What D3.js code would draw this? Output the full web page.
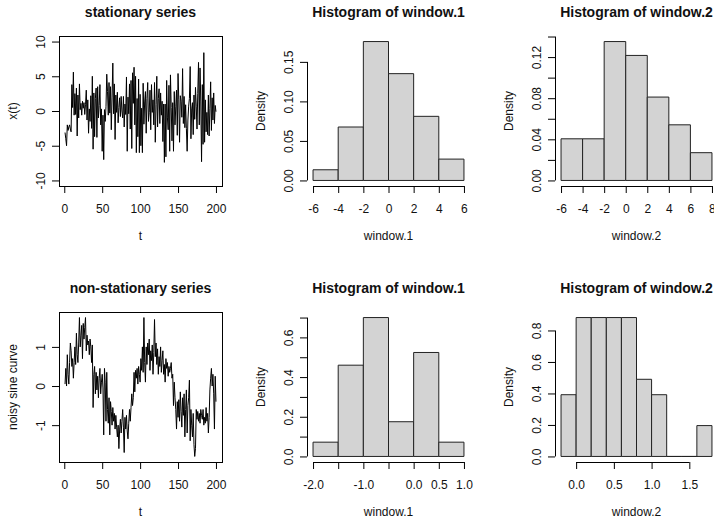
<!DOCTYPE html>
<html>
<head>
<meta charset="utf-8">
<script src="https://cdn.jsdelivr.net/npm/d3@7"></script>
<style>
body { margin: 0; background: #fff; }
svg text { font-family: "Liberation Sans", Arial, sans-serif; fill: #111; }
</style>
</head>
<body>
<div id="chart"></div>
<script>
// series, t = 1..200
var stationary = [
  -3.1, -4.0, -5.0, -2.0, -2.8, -2.3, -2.0, -2.6, -3.0, 3.8,
  0.5, 5.6, -0.6, 2.5, -0.5, 3.3, -3.6, 2.3, -1.0, 3.9,
  0.2, 1.1, -0.6, 1.4, 0.4, 1.2, -0.5, 0.9, 3.0, -1.3,
  1.6, -3.2, 0.3, -1.5, 2.2, -2.5, 5.0, -5.5, 2.6, -3.7,
  1.8, 3.3, -3.8, 3.5, -1.0, 0.8, 3.8, -2.0, 0.3, -5.8,
  -0.6, -7.0, 0.2, -1.5, 0.6, 5.3, 2.8, -0.6, 4.1, -0.3,
  3.5, -2.7, 2.0, 6.9, -0.4, 3.9, -4.1, 2.3, -0.2, 2.7,
  -1.7, 0.5, 1.9, -0.8, 2.1, 0.0, -1.0, 2.1, -2.3, 1.0,
  -0.5, 4.9, -5.8, 2.0, -0.4, 3.9, -2.6, 4.4, -5.4, 5.5,
  1.1, 6.3, -2.0, 5.0, -6.0, 1.8, -3.7, 4.6, -6.0, 2.4,
  -5.0, 0.4, -6.0, 4.0, -1.9, 1.3, 2.8, -3.2, 1.8, 4.1,
  -1.5, -0.2, 3.0, -2.7, 3.8, -0.2, 1.6, -2.0, 4.1, -4.5,
  0.9, 5.0, -2.3, 1.8, 3.2, -1.8, 2.6, -0.6, 1.4, -4.4,
  1.0, -7.4, 1.0, -6.6, 4.4, -1.0, -2.7, 3.7, -5.8, 5.2,
  0.5, -4.3, 1.2, -5.8, 2.8, -2.0, 0.6, 3.0, -3.5, 5.4,
  1.6, -4.5, 2.2, 1.4, -0.9, 6.1, -1.8, 2.1, -2.4, 0.9,
  -2.5, -5.8, -1.3, 0.7, 1.8, 6.4, -4.0, 0.3, 1.2, -3.4,
  2.3, -1.2, 3.4, 0.7, -2.6, 2.5, 7.0, -2.0, 6.2, 1.3,
  -7.3, 3.8, -4.8, 8.4, -4.5, 1.6, -3.0, -0.2, -3.4, 2.3,
  -3.6, 0.4, 4.2, -2.8, 1.9, -1.3, 2.6, -1.8, 0.8, -0.1
]

var nonStationary = [
  0.05, 0.45, 0.0, 0.8, 0.3, 0.05, 0.6, 1.1, 0.9, 0.5,
  0.7, 0.2, 0.6, 1.0, 0.55, 1.35, 0.8, 0.6, 1.1, 1.75,
  1.0, 1.3, 1.55, 0.7, 1.6, 1.2, 1.5, 1.75, 0.9, 1.3,
  1.05, 1.15, 0.8, 1.2, 1.0, 0.6, 1.05, -0.55, 0.3, 0.5,
  -0.2, 0.35, -0.1, 0.25, -0.3, 0.2, 0.45, -0.2, 0.1, 0.3,
  -0.05, -1.25, 0.45, 0.1, -0.9, 0.35, -0.6, -0.95, -0.3, -1.25,
  -0.4, -0.65, -1.0, -0.55, -0.9, -0.7, -1.1, -0.75, -1.05, -1.3,
  -1.0, -1.6, -1.1, -0.85, -1.2, -0.9, -0.6, -1.05, -1.7, -0.8,
  -1.1, -0.75, -1.15, -1.35, -0.95, -0.6, -0.9, -0.55, -0.2, -0.5,
  -0.3, 0.35, -0.15, 0.4, 0.2, 0.45, 0.05, 0.5, 0.3, 0.1,
  0.7, 0.4, 1.0, 0.35, 1.75, 0.6, 0.1, 1.0, 0.55, 1.1,
  0.8, 1.2, 0.4, 0.9, 0.65, 1.05, 0.3, 0.85, 1.7, 0.75,
  1.1, 0.55, 0.95, 0.3, 0.75, 0.5, 1.0, 0.35, 0.65, 0.9,
  0.3, 0.55, 0.1, 0.7, 0.45, 0.6, 0.25, 0.5, 0.35, 0.45,
  0.6, 0.2, 0.3, -0.5, 0.1, -0.3, -0.6, -1.1, -0.4, -0.8,
  -0.35, -0.9, -0.15, -0.65, -1.05, -0.3, -0.75, -0.2, -1.3, -0.6,
  -0.1, -1.2, -0.5, -0.3, 0.15, -1.4, -0.6, -1.0, -1.3, -0.7,
  -1.5, -1.8, -1.6, -0.6, -0.85, -0.65, -0.9, -0.7, -0.95, -0.6,
  -0.75, -0.85, -0.6, -1.0, -0.8, -0.95, -0.55, -0.9, -0.7, -1.2,
  -0.8, -0.1, 0.2, 0.45, 0.0, 0.3, -0.2, -1.1, 0.25, -0.4
]

// histograms: bin edges + density
var hist1Breaks = [-6, -4, -2, 0, 2, 4, 6]
var hist1Density = [0.0135, 0.0676, 0.1757, 0.1351, 0.0811, 0.0270]
var hist2Breaks = [-6, -4, -2, 0, 2, 4, 6, 8]
var hist2Density = [0.0405, 0.0405, 0.1351, 0.1216, 0.0811, 0.0541, 0.0270]
var hist3Breaks = [-2, -1.5, -1, -0.5, 0, 0.5, 1]
var hist3Density = [0.072, 0.46, 0.70, 0.175, 0.524, 0.072]
var hist4Breaks = [-0.2, 0, 0.2, 0.4, 0.6, 0.8, 1.0, 1.2, 1.4, 1.6, 1.8]
var hist4Density = [0.392, 0.882, 0.882, 0.882, 0.882, 0.490, 0.392, 0, 0, 0.196]

// ticks and their labels ("" = tick without label)
var tTicks = [0, 50, 100, 150, 200]
var tLabels = ["0", "50", "100", "150", "200"]
var statTicks = [-10, -5, 0, 5, 10]
var statLabels = ["-10", "-5", "0", "5", "10"]
var sineTicks = [-1, 0, 1]
var sineLabels = ["-1", "0", "1"]
var h1xTicks = [-6, -4, -2, 0, 2, 4, 6]
var h1xLabels = ["-6", "-4", "-2", "0", "2", "4", "6"]
var h1yTicks = [0, 0.05, 0.10, 0.15]
var h1yLabels = ["0.00", "0.05", "0.10", "0.15"]
var h2xTicks = [-6, -4, -2, 0, 2, 4, 6, 8]
var h2xLabels = ["-6", "-4", "-2", "0", "2", "4", "6", "8"]
var h2yTicks = [0, 0.02, 0.04, 0.06, 0.08, 0.10, 0.12, 0.14]
var h2yLabels = ["0.00", "", "0.04", "", "0.08", "", "0.12", ""]
var h3xTicks = [-2, -1.5, -1, -0.5, 0, 0.5, 1]
var h3xLabels = ["-2.0", "", "-1.0", "", "0.0", "0.5", "1.0"]
var h3yTicks = [0, 0.1, 0.2, 0.3, 0.4, 0.5, 0.6, 0.7]
var h3yLabels = ["0.0", "", "0.2", "", "0.4", "", "0.6", ""]
var h4xTicks = [0, 0.5, 1.0, 1.5]
var h4xLabels = ["0.0", "0.5", "1.0", "1.5"]
var h4yTicks = [0, 0.2, 0.4, 0.6, 0.8]
var h4yLabels = ["0.0", "0.2", "0.4", "0.6", "0.8"]

var width = 714, height = 521
var W = 163, H = 150
var colLeft = [59, 307, 555]
var rowTop = [36, 312]

var svg = d3.select("#chart").append("svg")
    .attr("width", width)
    .attr("height", height)

// R pads the data range by 4% on each side
var ext = (r) => {
    var pad = (r[1] - r[0]) * 0.04
    return [r[0] - pad, r[1] + pad]
}

var drawPanel = (p) => {
    var g = svg.append('g').attr('transform', `translate(${p.left}, ${p.top})`)
    var x = d3.scaleLinear().domain(ext(p.xr)).range([0, W])
    var y = d3.scaleLinear().domain(ext(p.yr)).range([H, 0])

    if (p.series) {
        var line = d3.line()
            .x((d, i) => x(i + 1))
            .y(d => y(d))
        g.append('path')
            .attr('d', line(p.series))
            .attr('fill', 'none')
            .attr('stroke', '#000')
            .attr('stroke-width', 1)
        g.append('rect')
            .attr('x', 0.5).attr('y', 0.5)
            .attr('width', W).attr('height', H)
            .attr('fill', 'none')
            .attr('stroke', '#000')
    } else {
        var bins = p.density.map((d, i) => ({x0: p.breaks[i], x1: p.breaks[i + 1], d: d}))
        g.selectAll('.bar')
            .data(bins).enter()
            .append('path')
            .attr('class', 'bar')
            .attr('d', b => `M${x(b.x0)},${y(0)}H${x(b.x1)}V${y(b.d)}H${x(b.x0)}Z`)
            .attr('fill', '#d3d3d3')
            .attr('stroke', '#222')
            .attr('stroke-width', 1)
    }

    /* axes */
    var xAxis = d3.axisBottom(x).tickValues(p.xTicks)
        .tickFormat((d, i) => p.xLabels[i]).tickSize(7).tickSizeOuter(0)
    var ax = g.append('g')
        .attr('transform', `translate(0, ${H})`)
        .call(xAxis)
        .attr('font-size', 12).attr('font-family', null)
    ax.select('.domain').attr('d', `M${x(p.xTicks[0])},0.5H${x(p.xTicks[p.xTicks.length - 1])}`)
    ax.selectAll('.tick text').attr('y', 27).attr('dy', null)

    var yAxis = d3.axisLeft(y).tickValues(p.yTicks)
        .tickFormat((d, i) => p.yLabels[i]).tickSize(7).tickSizeOuter(0)
    var ay = g.append('g')
        .call(yAxis)
        .attr('font-size', 12).attr('font-family', null)
    ay.select('.domain').attr('d', `M0.5,${y(p.yTicks[0])}V${y(p.yTicks[p.yTicks.length - 1])}`)
    ay.selectAll('.tick text')
        .attr('transform', 'rotate(-90)')
        .attr('x', 0).attr('y', -14).attr('dy', null)
        .attr('text-anchor', 'middle')

    /* titles */
    g.append('text')
        .attr('x', W / 2).attr('y', -19.5)
        .attr('text-anchor', 'middle')
        .style('font-size', '14px').style('font-weight', 'bold')
        .text(p.title)
    g.append('text')
        .attr('x', W / 2).attr('y', H + 54)
        .attr('text-anchor', 'middle')
        .style('font-size', '12px')
        .text(p.xlab)
    g.append('text')
        .attr('transform', `translate(-42, ${H / 2}) rotate(-90)`)
        .attr('text-anchor', 'middle')
        .style('font-size', '12px')
        .text(p.ylab)
}

var panels = [
    {left: colLeft[0], top: rowTop[0], series: stationary, xr: [1, 200], yr: [-10, 10],
     xTicks: tTicks, xLabels: tLabels, yTicks: statTicks, yLabels: statLabels,
     title: "stationary series", xlab: "t", ylab: "x(t)"},
    {left: colLeft[1], top: rowTop[0], breaks: hist1Breaks, density: hist1Density,
     xr: [-6, 6], yr: [0, d3.max(hist1Density)],
     xTicks: h1xTicks, xLabels: h1xLabels, yTicks: h1yTicks, yLabels: h1yLabels,
     title: "Histogram of window.1", xlab: "window.1", ylab: "Density"},
    {left: colLeft[2], top: rowTop[0], breaks: hist2Breaks, density: hist2Density,
     xr: [-6, 8], yr: [0, d3.max(hist2Density)],
     xTicks: h2xTicks, xLabels: h2xLabels, yTicks: h2yTicks, yLabels: h2yLabels,
     title: "Histogram of window.2", xlab: "window.2", ylab: "Density"},
    {left: colLeft[0], top: rowTop[1], series: nonStationary, xr: [1, 200], yr: d3.extent(nonStationary),
     xTicks: tTicks, xLabels: tLabels, yTicks: sineTicks, yLabels: sineLabels,
     title: "non-stationary series", xlab: "t", ylab: "noisy sine curve"},
    {left: colLeft[1], top: rowTop[1], breaks: hist3Breaks, density: hist3Density,
     xr: [-2, 1], yr: [0, d3.max(hist3Density)],
     xTicks: h3xTicks, xLabels: h3xLabels, yTicks: h3yTicks, yLabels: h3yLabels,
     title: "Histogram of window.1", xlab: "window.1", ylab: "Density"},
    {left: colLeft[2], top: rowTop[1], breaks: hist4Breaks, density: hist4Density,
     xr: [-0.2, 1.8], yr: [0, d3.max(hist4Density)],
     xTicks: h4xTicks, xLabels: h4xLabels, yTicks: h4yTicks, yLabels: h4yLabels,
     title: "Histogram of window.2", xlab: "window.2", ylab: "Density"}
]

panels.forEach(drawPanel)
</script>
</body>
</html>
